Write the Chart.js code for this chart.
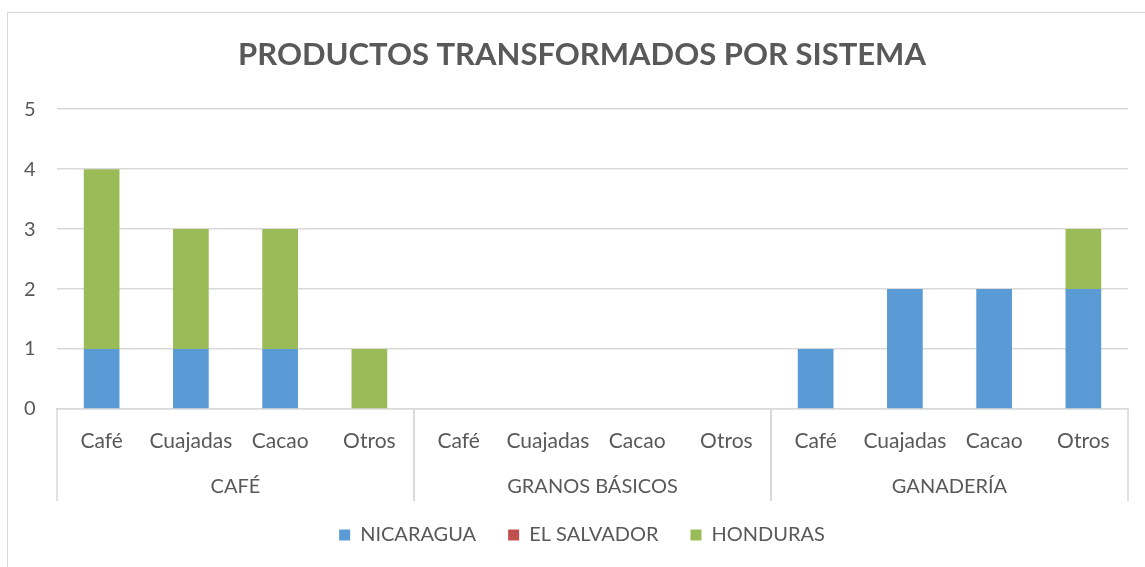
<!DOCTYPE html>
<html>
<head>
<meta charset="utf-8">
<title>Productos transformados por sistema</title>
<script src="https://cdn.jsdelivr.net/npm/chart.js@4/dist/chart.umd.min.js"></script>
<style>
  html, body { margin: 0; padding: 0; background: #fff; }
  #wrap { position: relative; width: 1145px; height: 567px; overflow: hidden; }
  #frame { position: absolute; left: 7px; top: 12px; width: 1200px; height: 600px; border-left: 1px solid #d9d9d9; border-top: 1px solid #d9d9d9; pointer-events: none; }
</style>
</head>
<body>
<div id="wrap">
  <canvas id="chart" width="1145" height="567"></canvas>
  <div id="frame"></div>
</div>
<script>
var TITLE = 'PRODUCTOS TRANSFORMADOS POR SISTEMA';
var GROUPS = ['CAFÉ', 'GRANOS BÁSICOS', 'GANADERÍA'];
var PRODUCTS = ['Café', 'Cuajadas', 'Cacao', 'Otros'];
var SERIES = ['NICARAGUA', 'EL SALVADOR', 'HONDURAS'];
var NICARAGUA = [1, 1, 1, 0, 0, 0, 0, 0, 1, 2, 2, 2];
var EL_SALVADOR = [0, 0, 0, 0, 0, 0, 0, 0, 0, 0, 0, 0];
var HONDURAS = [3, 2, 2, 1, 0, 0, 0, 0, 0, 0, 0, 1];
var Y_TICKS = [0, 1, 2, 3, 4, 5];
var COLORS = ['#5B9BD5', '#C0504D', '#9BBB59'];

var TEXT = '#595959';
var LINE = '#d9d9d9';
var FONT = 'Lato, "Open Sans", sans-serif';

// one label per bar: the product names repeated for each group
var labels = [];
GROUPS.forEach(function() {
  PRODUCTS.forEach(function(p) { labels.push(p); });
});

// draws the second level of the category axis (group names + separators)
var groupAxis = {
  id: 'groupAxis',
  afterDraw: function(chart) {
    var x = chart.scales.x;
    var ctx = chart.ctx;
    var half = (x.getPixelForValue(1) - x.getPixelForValue(0)) / 2;
    var top = x.top;
    var bottom = top + 92;
    ctx.save();
    ctx.strokeStyle = LINE;
    ctx.lineWidth = 1.5;
    ctx.fillStyle = TEXT;
    ctx.font = '20px ' + FONT;
    ctx.textAlign = 'center';
    ctx.textBaseline = 'middle';
    GROUPS.forEach(function(g, gi) {
      var first = gi * PRODUCTS.length;
      var last = first + PRODUCTS.length - 1;
      var left = x.getPixelForValue(first) - half;
      var right = x.getPixelForValue(last) + half;
      ctx.beginPath();
      ctx.moveTo(left, top);
      ctx.lineTo(left, bottom);
      ctx.moveTo(right, top);
      ctx.lineTo(right, bottom);
      ctx.stroke();
      ctx.fillText(g, (left + right) / 2, top + 78);
    });
    ctx.restore();
  }
};

var datasets = SERIES.map(function(name, i) {
  var values = [NICARAGUA, EL_SALVADOR, HONDURAS][i];
  return {
    label: name,
    data: values,
    backgroundColor: COLORS[i],
    borderWidth: 0,
    categoryPercentage: 1,
    barPercentage: 0.4
  };
});

new Chart(document.getElementById('chart'), {
  type: 'bar',
  data: { labels: labels, datasets: datasets },
  plugins: [groupAxis],
  options: {
    responsive: false,
    animation: false,
    // left/right padding differ so title and legend centre on the outer frame
    layout: { padding: { top: 12, right: 17, left: 36, bottom: 12 } },
    plugins: {
      title: {
        display: true,
        text: TITLE,
        color: TEXT,
        font: { family: FONT, size: 31, weight: 'bold' },
        padding: { top: 24, bottom: 36 }
      },
      legend: {
        position: 'bottom',
        labels: {
          color: TEXT,
          font: { family: FONT, size: 20 },
          boxWidth: 11,
          boxHeight: 11,
          padding: 32
        }
      },
      tooltip: { enabled: false }
    },
    scales: {
      x: {
        stacked: true,
        grid: { display: false, drawTicks: false },
        border: { display: true, color: LINE, width: 1.5 },
        ticks: { color: TEXT, font: { family: FONT, size: 21 }, padding: 20, maxRotation: 0, autoSkip: false },
        afterFit: function(scale) { scale.height = 84; }
      },
      y: {
        stacked: true,
        min: Y_TICKS[0],
        max: Y_TICKS[Y_TICKS.length - 1],
        afterBuildTicks: function(scale) { scale.ticks = Y_TICKS.map(function(v) { return { value: v }; }); },
        grid: { color: LINE, lineWidth: 1.5, drawTicks: false },
        border: { display: false },
        // mirrored + negative padding puts the labels left of the narrow axis box without clipping
        ticks: { color: TEXT, font: { family: FONT, size: 20 }, mirror: true, crossAlign: 'far', padding: -33 },
        afterFit: function(scale) { scale.width = 21; }
      }
    }
  }
});
</script>
</body>
</html>
